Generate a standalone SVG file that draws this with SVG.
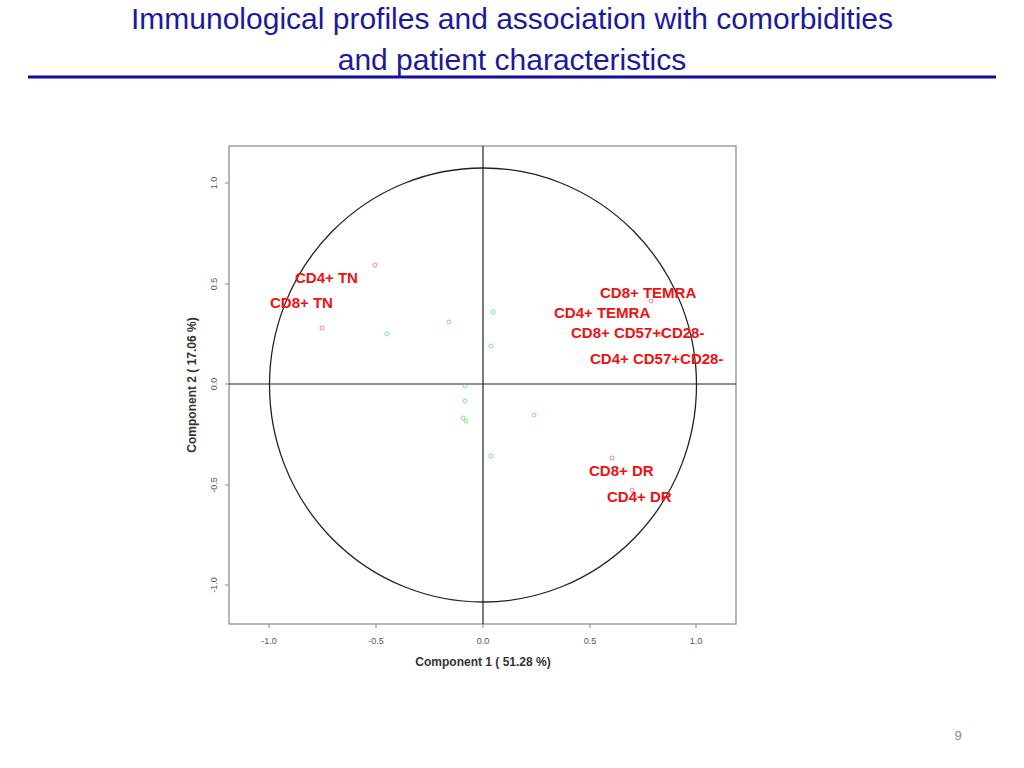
<svg xmlns="http://www.w3.org/2000/svg" width="1024" height="768" viewBox="0 0 1024 768">
<style>
.title{font-family:"Liberation Sans",Arial,sans-serif;font-size:30px;fill:#1a1a9c;text-anchor:middle}
.lbl{font-family:"Liberation Sans",Arial,sans-serif;font-size:15px;font-weight:bold;fill:#ee1111}
.tick{font-family:"Liberation Sans",Arial,sans-serif;font-size:9px;fill:#555;text-anchor:middle}
.ax{font-family:"Liberation Sans",Arial,sans-serif;font-size:12px;font-weight:bold;fill:#333;text-anchor:middle}
.g{fill:none;stroke:#66dd66;stroke-width:0.8}
.r{fill:none;stroke:#ee6666;stroke-width:0.8}
</style>
<rect width="1024" height="768" fill="#fff"/>
<text class="title" x="512" y="29">Immunological profiles and association with comorbidities</text>
<text class="title" x="512" y="70">and patient characteristics</text>
<line x1="28" y1="77" x2="996" y2="77" stroke="#1010a0" stroke-width="3"/>
<g id="plot">
<rect x="229" y="146" width="507" height="478" fill="none" stroke="#888" stroke-width="1.2"/>
<line x1="483" y1="146" x2="483" y2="624" stroke="#222" stroke-width="1.2"/>
<line x1="229" y1="384" x2="736" y2="384" stroke="#222" stroke-width="1.2"/>
<ellipse cx="483" cy="385" rx="213.5" ry="217" fill="none" stroke="#222" stroke-width="1.3"/>
<g stroke="#888">
<line x1="269" y1="624" x2="269" y2="628"/><line x1="376" y1="624" x2="376" y2="628"/><line x1="483" y1="624" x2="483" y2="628"/><line x1="590" y1="624" x2="590" y2="628"/><line x1="696" y1="624" x2="696" y2="628"/>
<line x1="225" y1="183" x2="229" y2="183"/><line x1="225" y1="284" x2="229" y2="284"/><line x1="225" y1="384" x2="229" y2="384"/><line x1="225" y1="485" x2="229" y2="485"/><line x1="225" y1="585" x2="229" y2="585"/>
</g>
<text class="tick" x="269" y="644">-1.0</text><text class="tick" x="376" y="644">-0.5</text><text class="tick" x="483" y="644">0.0</text><text class="tick" x="590" y="644">0.5</text><text class="tick" x="696" y="644">1.0</text>
<text class="tick" transform="translate(217,183) rotate(-90)">1.0</text>
<text class="tick" transform="translate(217,284) rotate(-90)">0.5</text>
<text class="tick" transform="translate(217,384) rotate(-90)">0.0</text>
<text class="tick" transform="translate(217,485) rotate(-90)">-0.5</text>
<text class="tick" transform="translate(217,585) rotate(-90)">-1.0</text>
<text class="ax" x="483" y="666">Component 1 ( 51.28 %)</text>
<text class="ax" transform="translate(196,385) rotate(-90)">Component 2 ( 17.06 %)</text>
<g id="points">
<circle class="r" cx="375" cy="265" r="2"/><circle class="r" cx="322" cy="328" r="2"/>
<circle class="r" cx="651" cy="301" r="2"/><circle class="r" cx="660" cy="334" r="2"/>
<circle class="r" cx="612" cy="458" r="2"/><circle class="r" cx="632" cy="490" r="2"/>
<circle class="g" cx="387" cy="334" r="2"/><circle class="g" cx="449" cy="322" r="2"/>
<circle class="g" cx="493" cy="312" r="2"/><circle class="g" cx="491" cy="346" r="2"/>
<circle class="g" cx="465" cy="386" r="2"/><circle class="g" cx="465" cy="401" r="2"/>
<circle class="g" cx="463" cy="418" r="2"/><circle class="g" cx="466" cy="421" r="2"/>
<circle class="g" cx="534" cy="415" r="2"/><circle class="g" cx="491" cy="456" r="2"/>
</g>
<text class="lbl" x="295" y="283">CD4+ TN</text>
<text class="lbl" x="270" y="308">CD8+ TN</text>
<text class="lbl" x="600" y="298">CD8+ TEMRA</text>
<text class="lbl" x="554" y="318">CD4+ TEMRA</text>
<text class="lbl" x="571" y="338">CD8+ CD57+CD28-</text>
<text class="lbl" x="590" y="364">CD4+ CD57+CD28-</text>
<text class="lbl" x="589" y="476">CD8+ DR</text>
<text class="lbl" x="607" y="502">CD4+ DR</text>
</g>
<text x="958" y="740" font-family="Liberation Sans,Arial,sans-serif" font-size="13" fill="#888" text-anchor="middle">9</text>
</svg>
